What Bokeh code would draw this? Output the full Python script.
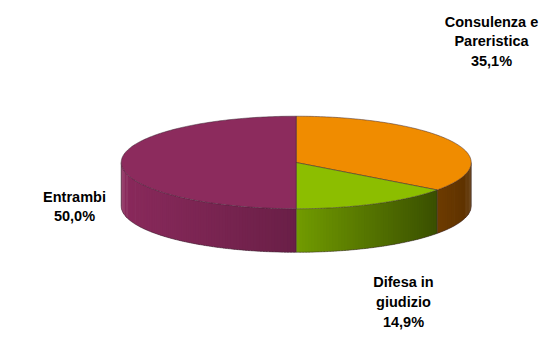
import numpy as np
from bokeh.plotting import figure
from bokeh.models import Range1d, ColumnDataSource
from bokeh.core.properties import value
from bokeh.embed import file_html
from bokeh.resources import INLINE

# ---- data ----
categories = ["Consulenza e\nPareristica", "Difesa in\ngiudizio", "Entrambi"]
shares = [35.1, 14.9, 50.0]

# ---- style ----
top_colors = ["#F08C00", "#8CBE00", "#8C2B5D"]
side_left = ["#6E3C00", "#729C00", "#8A2A5C"]
side_right = ["#5C3100", "#3A5000", "#6A1F47"]
label_pos = [(491, 41), (403, 301.5), (74, 206)]

W, H = 543, 340
p = figure(width=W, height=H, output_backend="svg", toolbar_location=None,
           x_range=Range1d(0, W), y_range=Range1d(H, 0), min_border=0)
p.axis.visible = False
p.grid.visible = False
p.outline_line_color = None
p.background_fill_color = "white"
p.border_fill_color = "white"

cx, cy, a, b, depth = 295.7, 162.0, 175.0, 46.3, 43.5


def pt(theta_deg, dy=0.0):
    t = np.radians(theta_deg)
    return cx + a * np.cos(t), cy - b * np.sin(t) + dy


def hex2rgb(h):
    h = h.lstrip("#")
    return np.array([int(h[i:i + 2], 16) for i in (0, 2, 4)], dtype=float)


def mix(c1, c2, f):
    c = hex2rgb(c1) * (1 - f) + hex2rgb(c2) * f
    return "#%02x%02x%02x" % tuple(int(round(v)) for v in c)


# slice angles (start at top, clockwise)
starts, ends = [], []
ang = 90.0
for s in shares:
    starts.append(ang)
    ang -= s / 100.0 * 360.0
    ends.append(ang)

# ---- side faces (front half only) ----
sx, sy, sc = [], [], []
edge_angles = []
for i in range(len(shares)):
    lo_s, hi_s = ends[i], starts[i]
    for k in (-360.0, 0.0, 360.0):
        lo = max(lo_s + k, -180.0)
        hi = min(hi_s + k, 0.0)
        if hi - lo <= 0.01:
            continue
        n = max(2, int(np.ceil((hi - lo) / 1.0)))
        ts = np.linspace(lo, hi, n + 1)
        xmin, _ = pt(lo)
        xmax, _ = pt(hi)
        xa, xb = min(xmin, xmax), max(xmin, xmax)
        for j in range(n):
            t0 = ts[j]
            t1 = min(ts[j + 1] + 0.6, hi)
            x0, y0 = pt(t0)
            x1, y1 = pt(t1)
            xm = 0.5 * (x0 + x1)
            f = (xm - xa) / (xb - xa) if xb > xa else 0.0
            sx.append([x0, x1, x1, x0])
            sy.append([y0, y1, y1 + depth, y0 + depth])
            sc.append(mix(side_left[i], side_right[i], f))
        if -180.0 < lo < 0.0:
            edge_angles.append(lo)

p.patches(xs="xs", ys="ys", source=ColumnDataSource(dict(xs=sx, ys=sy, c=sc)),
          fill_color="c", line_color=None)

# side outlines
tt = np.linspace(-180, 0, 181)
bx = [pt(t, depth)[0] for t in tt]
by = [pt(t, depth)[1] for t in tt]
p.line(bx, by, line_color="#3a2530", line_alpha=0.5, line_width=1)
for t in [-180.0, 0.0] + edge_angles:
    x0, y0 = pt(t)
    p.line([x0, x0], [y0, y0 + depth], line_color="#2e2228", line_alpha=0.55, line_width=1)

# ---- top face ----
tx, ty = [], []
for i in range(len(shares)):
    ts = np.linspace(starts[i], ends[i], int(abs(starts[i] - ends[i])) + 2)
    xs = [cx] + [pt(t)[0] for t in ts]
    ys = [cy] + [pt(t)[1] for t in ts]
    tx.append(xs)
    ty.append(ys)
p.patches(xs="xs", ys="ys",
          source=ColumnDataSource(dict(xs=tx, ys=ty, c=top_colors)),
          fill_color="c", line_color="#3a2530", line_alpha=0.55, line_width=0.9)

# ---- labels ----
labels = [f"{c}\n{s:.1f}%".replace(".", ",") for c, s in zip(categories, shares)]
p.text(x=[q[0] for q in label_pos], y=[q[1] for q in label_pos], text=labels,
       text_align="center", text_baseline="middle",
       text_font=value("Liberation Sans"), text_font_style="bold",
       text_font_size="14.5px", text_line_height=1.22, text_color="#000000")

open("out.html", "w").write(file_html(p, INLINE))
